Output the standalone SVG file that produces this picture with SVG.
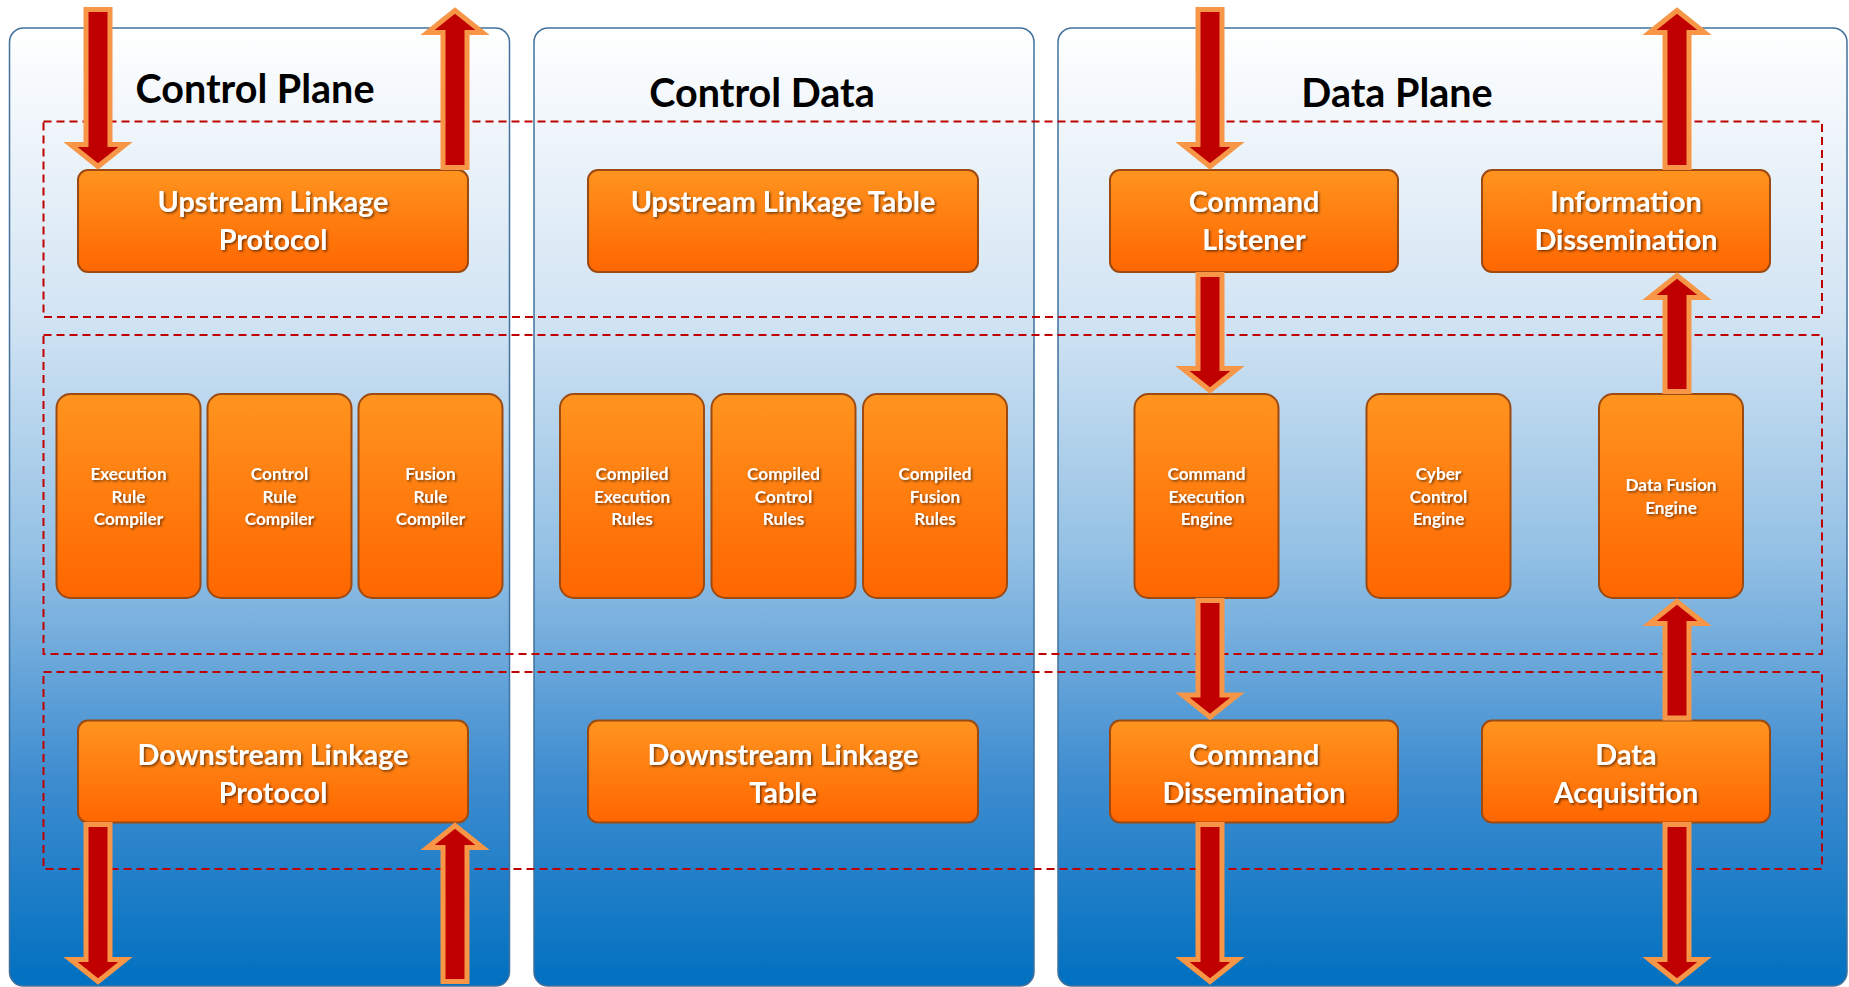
<svg xmlns="http://www.w3.org/2000/svg" width="1849" height="987" viewBox="0 0 1849 987">
<defs>
<linearGradient id="panelGrad" x1="0" y1="28" x2="0" y2="986" gradientUnits="userSpaceOnUse">
<stop offset="0" stop-color="#FFFFFF"/>
<stop offset="0.3" stop-color="#D2E4F3"/>
<stop offset="0.55" stop-color="#93C0E4"/>
<stop offset="0.78" stop-color="#3F8DD0"/>
<stop offset="1" stop-color="#0070C0"/>
</linearGradient>
<linearGradient id="boxGrad" x1="0" y1="0" x2="0" y2="1">
<stop offset="0" stop-color="#FF941F"/>
<stop offset="1" stop-color="#FF6600"/>
</linearGradient>
<filter id="shadow" x="-10%" y="-30%" width="120%" height="160%">
<feDropShadow dx="1.5" dy="1.5" stdDeviation="1" flood-color="#000000" flood-opacity="0.55"/>
</filter>
</defs>
<style>
.panel{fill:url(#panelGrad);stroke:#41719C;stroke-width:1.5}
.row{fill:none;stroke:#C00000;stroke-width:2;stroke-dasharray:8 5}
.box{fill:url(#boxGrad);stroke:#9C4A12;stroke-width:2}
.title{font-family:Lato,"Liberation Sans",sans-serif;font-weight:700;font-size:39.5px;fill:#000000;text-anchor:middle}
.lbl{font-family:Lato,"Liberation Sans",sans-serif;font-weight:700;font-size:28.8px;fill:#FFFFFF;text-anchor:middle;filter:url(#shadow)}
.sm{font-family:Lato,"Liberation Sans",sans-serif;font-weight:700;font-size:17.2px;fill:#FFFFFF;text-anchor:middle;filter:url(#shadow)}
.arr{fill:#C00000;stroke:#F79646;stroke-width:5;stroke-linejoin:miter}
</style>

<g id="panels">
<rect class="panel" x="9.5" y="28" width="500" height="958" rx="14"/>
<rect class="panel" x="534" y="28" width="500" height="958" rx="14"/>
<rect class="panel" x="1058" y="28" width="789" height="958" rx="14"/>
<text class="title" x="255" y="103">Control Plane</text>
<text class="title" x="762" y="107">Control Data</text>
<text class="title" x="1397" y="107">Data Plane</text>
</g>

<g id="rows">
<rect class="row" x="43.5" y="121.5" width="1778.5" height="195.5"/>
<rect class="row" x="43.5" y="335" width="1778.5" height="319"/>
<rect class="row" x="43.5" y="672" width="1778.5" height="197"/>
</g>

<g id="upstream-linkage-protocol">
<rect class="box" x="78" y="170" width="390" height="102" rx="10"/>
<text class="lbl" x="273" y="212">Upstream Linkage</text>
<text class="lbl" x="273" y="250">Protocol</text>
</g>
<g id="upstream-linkage-table">
<rect class="box" x="588" y="170" width="390" height="102" rx="10"/>
<text class="lbl" x="783" y="212">Upstream Linkage Table</text>
</g>
<g id="command-listener">
<rect class="box" x="1110" y="170" width="288" height="102" rx="10"/>
<text class="lbl" x="1254" y="212">Command</text>
<text class="lbl" x="1254" y="250">Listener</text>
</g>
<g id="information-dissemination">
<rect class="box" x="1482" y="170" width="288" height="102" rx="10"/>
<text class="lbl" x="1626" y="212">Information</text>
<text class="lbl" x="1626" y="250">Dissemination</text>
</g>

<g id="execution-rule-compiler">
<rect class="box" x="56.5" y="394" width="144" height="204" rx="14"/>
<text class="sm" x="128.5" y="480">Execution</text>
<text class="sm" x="128.5" y="502.5">Rule</text>
<text class="sm" x="128.5" y="525">Compiler</text>
</g>
<g id="control-rule-compiler">
<rect class="box" x="207.5" y="394" width="144" height="204" rx="14"/>
<text class="sm" x="279.5" y="480">Control</text>
<text class="sm" x="279.5" y="502.5">Rule</text>
<text class="sm" x="279.5" y="525">Compiler</text>
</g>
<g id="fusion-rule-compiler">
<rect class="box" x="358.5" y="394" width="144" height="204" rx="14"/>
<text class="sm" x="430.5" y="480">Fusion</text>
<text class="sm" x="430.5" y="502.5">Rule</text>
<text class="sm" x="430.5" y="525">Compiler</text>
</g>

<g id="compiled-execution-rules">
<rect class="box" x="560" y="394" width="144" height="204" rx="14"/>
<text class="sm" x="632" y="480">Compiled</text>
<text class="sm" x="632" y="502.5">Execution</text>
<text class="sm" x="632" y="525">Rules</text>
</g>
<g id="compiled-control-rules">
<rect class="box" x="711.5" y="394" width="144" height="204" rx="14"/>
<text class="sm" x="783.5" y="480">Compiled</text>
<text class="sm" x="783.5" y="502.5">Control</text>
<text class="sm" x="783.5" y="525">Rules</text>
</g>
<g id="compiled-fusion-rules">
<rect class="box" x="863" y="394" width="144" height="204" rx="14"/>
<text class="sm" x="935" y="480">Compiled</text>
<text class="sm" x="935" y="502.5">Fusion</text>
<text class="sm" x="935" y="525">Rules</text>
</g>

<g id="command-execution-engine">
<rect class="box" x="1134.5" y="394" width="144" height="204" rx="14"/>
<text class="sm" x="1206.5" y="480">Command</text>
<text class="sm" x="1206.5" y="502.5">Execution</text>
<text class="sm" x="1206.5" y="525">Engine</text>
</g>
<g id="cyber-control-engine">
<rect class="box" x="1366.5" y="394" width="144" height="204" rx="14"/>
<text class="sm" x="1438.5" y="480">Cyber</text>
<text class="sm" x="1438.5" y="502.5">Control</text>
<text class="sm" x="1438.5" y="525">Engine</text>
</g>
<g id="data-fusion-engine">
<rect class="box" x="1599" y="394" width="144" height="204" rx="14"/>
<text class="sm" x="1671" y="491">Data Fusion</text>
<text class="sm" x="1671" y="513.5">Engine</text>
</g>

<g id="downstream-linkage-protocol">
<rect class="box" x="78" y="720.5" width="390" height="102" rx="10"/>
<text class="lbl" x="273" y="764.5">Downstream Linkage</text>
<text class="lbl" x="273" y="803">Protocol</text>
</g>
<g id="downstream-linkage-table">
<rect class="box" x="588" y="720.5" width="390" height="102" rx="10"/>
<text class="lbl" x="783" y="764.5">Downstream Linkage</text>
<text class="lbl" x="783" y="803">Table</text>
</g>
<g id="command-dissemination">
<rect class="box" x="1110" y="720.5" width="288" height="102" rx="10"/>
<text class="lbl" x="1254" y="764.5">Command</text>
<text class="lbl" x="1254" y="803">Dissemination</text>
</g>
<g id="data-acquisition">
<rect class="box" x="1482" y="720.5" width="288" height="102" rx="10"/>
<text class="lbl" x="1626" y="764.5">Data</text>
<text class="lbl" x="1626" y="803">Acquisition</text>
</g>

<g id="connectors">
<path class="arr" d="M86,9.5 H110 V144.5 H125.5 L98,166.5 L70.5,144.5 H86 Z"/>
<path class="arr" d="M443,167.5 H467 V32.5 H482.5 L455,10.5 L427.5,32.5 H443 Z"/>
<path class="arr" d="M1198,9.5 H1222 V144.5 H1237.5 L1210,166.5 L1182.5,144.5 H1198 Z"/>
<path class="arr" d="M1665,167.5 H1689 V32.5 H1704.5 L1677,10.5 L1649.5,32.5 H1665 Z"/>
<path class="arr" d="M1198,274.5 H1222 V368.5 H1237.5 L1210,390.5 L1182.5,368.5 H1198 Z"/>
<path class="arr" d="M1665,391.5 H1689 V297.5 H1704.5 L1677,275.5 L1649.5,297.5 H1665 Z"/>
<path class="arr" d="M1198,600.5 H1222 V695 H1237.5 L1210,717 L1182.5,695 H1198 Z"/>
<path class="arr" d="M1665,718 H1689 V623.5 H1704.5 L1677,601.5 L1649.5,623.5 H1665 Z"/>
<path class="arr" d="M86,824.5 H110 V959.5 H125.5 L98,981.5 L70.5,959.5 H86 Z"/>
<path class="arr" d="M443,981.5 H467 V847.5 H482.5 L455,825.5 L427.5,847.5 H443 Z"/>
<path class="arr" d="M1198,824.5 H1222 V959.5 H1237.5 L1210,981.5 L1182.5,959.5 H1198 Z"/>
<path class="arr" d="M1665,824.5 H1689 V959.5 H1704.5 L1677,981.5 L1649.5,959.5 H1665 Z"/>
</g>
</svg>
